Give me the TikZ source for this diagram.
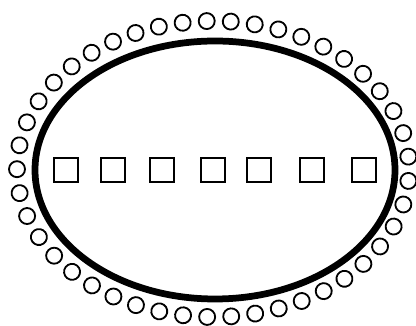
\documentclass[tikz,border=0pt]{standalone}
\usepackage{tikz}
\usetikzlibrary{decorations.markings}

\begin{document}
\begin{tikzpicture}[x=0.025cm, y=-0.025cm,
          rim/.style={draw=black, line width=4.8pt},
          bead/.style={draw=black, line width=1.3pt},
          cell/.style={draw=black, line width=1pt}
        ]
        \useasboundingbox (0,0) rectangle (416,326);

        % Ring of beads
        \path[decorate, decoration={markings,
              mark=between positions 0.011 and 1 step 0.02222 with
              {\draw[bead] (0,0) circle (8);}}]
              (213,169) ellipse [x radius=196, y radius=148];

        % Thick rim
        \draw[rim] (215,170) ellipse [x radius=180, y radius=129];

        % Row of cells
        \foreach \cx in {66,113,162,213,259,312,364}
          \draw[cell] (\cx-12,158) rectangle (\cx+12,182);
      \end{tikzpicture}
\end{document}
